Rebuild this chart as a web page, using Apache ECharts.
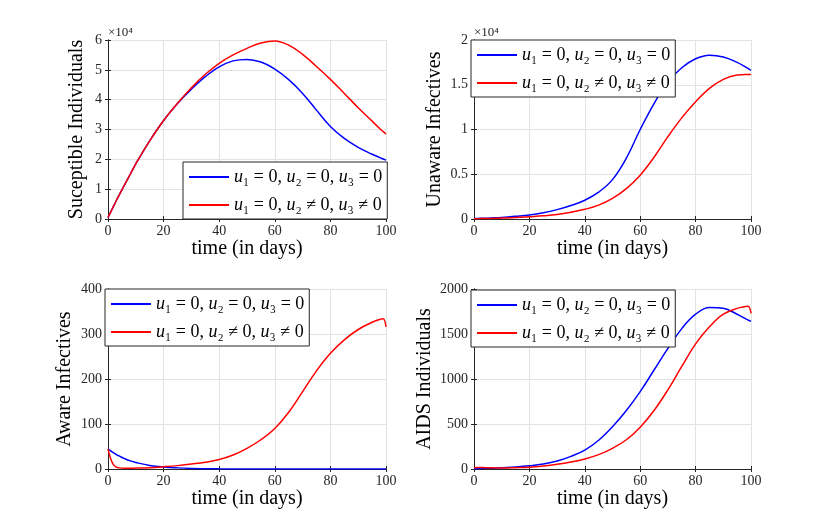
<!DOCTYPE html>
<html>
<head>
<meta charset="utf-8">
<script src="https://cdn.jsdelivr.net/npm/echarts@6/dist/echarts.min.js"></script>
<style>
html, body { margin: 0; padding: 0; background: #fff; }
#main { width: 830px; height: 528px; }
</style>
</head>
<body>
<div id="main"></div>
<script>
/*时间点 (天)*/
var days = [0, 1, 2, 3, 4, 6, 8, 10, 15, 20, 25, 30, 35, 40, 45, 50, 55, 60, 65, 70, 75, 80, 85, 90, 95, 98, 99, 100];

/*易感人群*/
var susNoCtrl = [500, 2400, 4300, 6200, 8000, 11500, 15000, 18500, 26200, 33000, 38700, 43500, 47700, 51000, 53000, 53500, 52600, 50200, 46700, 42100, 36500, 31000, 27000, 24000, 21700, 20500, 20100, 19800];
var susCtrl = [500, 2400, 4300, 6200, 8000, 11500, 15000, 18500, 26200, 33000, 38800, 44000, 48500, 52200, 55000, 57200, 59000, 59700, 58300, 55200, 51100, 46800, 42100, 37300, 32800, 30100, 29300, 28500];

/*未察觉感染者*/
var unawNoCtrl = [50, 60, 70, 80, 90, 110, 140, 170, 300, 450, 700, 1050, 1500, 2100, 3000, 4400, 6800, 10000, 12900, 15300, 16900, 17900, 18300, 18100, 17500, 17000, 16800, 16600];
var unawCtrl = [30, 35, 40, 45, 50, 60, 75, 100, 160, 250, 350, 500, 750, 1080, 1550, 2300, 3400, 4900, 6900, 9200, 11300, 13100, 14600, 15600, 16100, 16150, 16150, 16150];

/*已察觉感染者*/
var awNoCtrl = [44, 40, 36, 32, 29, 23, 18, 14.5, 8, 4.5, 2.5, 1.3, 0.7, 0.3, 0.1, 0, 0, 0, 0, 0, 0, 0, 0, 0, 0, 0, 0, 0];
var awCtrl = [44, 22, 9, 4, 2.5, 1.5, 1.5, 2, 3, 5, 7.5, 11, 15, 21, 31, 46, 65, 90, 126, 172, 218, 257, 287, 310, 326, 333, 334, 316];

/*艾滋病人群*/
var aidsNoCtrl = [0, 3, 5, 6, 7, 9, 11, 14, 22, 35, 55, 88, 140, 210, 320, 470, 650, 860, 1100, 1340, 1560, 1720, 1795, 1785, 1720, 1670, 1655, 1640];
var aidsCtrl = [15, 18, 17, 16, 15, 13, 12, 12, 15, 20, 33, 52, 78, 112, 160, 230, 325, 465, 650, 880, 1140, 1390, 1580, 1720, 1785, 1805, 1808, 1730];

/*图例与坐标轴文字*/
var seriesNames = ['noctrl', 'ctrl'];
var legendLabels = ['{i|u}₁ = 0, {i|u}₂ = 0, {i|u}₃ = 0', '{i|u}₁ = 0, {i|u}₂ ≠ 0, {i|u}₃ ≠ 0'];
var yTitles = ['Suceptible Individuals', 'Unaware Infectives', 'Aware Infectives', 'AIDS Individuals'];
var xTitle = 'time (in days)';
var yMax = [60000, 20000, 400, 2000];
var yStep = [10000, 5000, 100, 500];

var FONT = 'Liberation Serif';
var AXIS_COLOR = '#262626';

var grids = [
	{ left: 108, top: 40, width: 278, height: 179 },
	{ left: 474, top: 40, width: 277, height: 179 },
	{ left: 108, top: 289, width: 278, height: 180 },
	{ left: 474, top: 289, width: 277, height: 180 }
];
var legendPos = [
	{ left: 183, top: 162 },
	{ left: 471, top: 40 },
	{ left: 105, top: 289 },
	{ left: 471, top: 290 }
];
var yNameGap = [21, 29, 33, 39];

function pairs(xs, ys) {
	var out = [];
	for(var i = 0; i < xs.length; i++) {
		out.push([xs[i], ys[i]]);
	}
	return out;
}

function yLabel(idx) {
	return function(v) {
		if(idx < 2) {
			return String(v / 10000);
		}
		return String(v);
	};
}

var option = {
	backgroundColor: '#fff',
	animation: false,
	grid: grids,
	xAxis: [],
	yAxis: [],
	legend: [],
	series: [],
	graphic: [{
		type: 'text',
		left: 108,
		top: 26,
		style: { text: '×10⁴', font: '13px "' + FONT + '"', fill: AXIS_COLOR }
	}, {
		type: 'text',
		left: 474,
		top: 26,
		style: { text: '×10⁴', font: '13px "' + FONT + '"', fill: AXIS_COLOR }
	}]
};

var allData = [
	[susNoCtrl, susCtrl],
	[unawNoCtrl, unawCtrl],
	[awNoCtrl, awCtrl],
	[aidsNoCtrl, aidsCtrl]
];

for(var g = 0; g < 4; g++) {
	/*下方x轴*/
	option.xAxis.push({
		gridIndex: g, type: 'value', min: 0, max: 100, interval: 20, position: 'bottom',
		name: xTitle, nameLocation: 'middle', nameGap: 19,
		nameTextStyle: { fontFamily: FONT, fontSize: 20, color: '#000' },
		axisLine: { show: true, lineStyle: { color: AXIS_COLOR, width: 1 } },
		axisTick: { show: true, inside: true, length: 3, lineStyle: { color: AXIS_COLOR } },
		axisLabel: { fontFamily: FONT, fontSize: 14, color: AXIS_COLOR, margin: 5 },
		splitLine: { show: true, lineStyle: { color: '#e3e3e3', width: 1 } }
	});
	/*上方x轴, 只画框*/
	option.xAxis.push({
		gridIndex: g, type: 'value', min: 0, max: 100, interval: 20, position: 'top',
		axisLine: { show: true, lineStyle: { color: AXIS_COLOR, width: 1 } },
		axisTick: { show: true, inside: true, length: 3, lineStyle: { color: AXIS_COLOR } },
		axisLabel: { show: false },
		splitLine: { show: false }
	});
	option.yAxis.push({
		gridIndex: g, type: 'value', min: 0, max: yMax[g], interval: yStep[g], position: 'left',
		name: yTitles[g], nameLocation: 'middle', nameGap: yNameGap[g],
		nameTextStyle: { fontFamily: FONT, fontSize: 20, color: '#000' },
		axisLine: { show: true, lineStyle: { color: AXIS_COLOR, width: 1 } },
		axisTick: { show: true, inside: true, length: 3, lineStyle: { color: AXIS_COLOR } },
		axisLabel: { fontFamily: FONT, fontSize: 14, color: AXIS_COLOR, margin: 6, formatter: yLabel(g) },
		splitLine: { show: true, lineStyle: { color: '#e3e3e3', width: 1 } }
	});
	option.yAxis.push({
		gridIndex: g, type: 'value', min: 0, max: yMax[g], interval: yStep[g], position: 'right',
		axisLine: { show: true, lineStyle: { color: AXIS_COLOR, width: 1 } },
		axisTick: { show: true, inside: true, length: 3, lineStyle: { color: AXIS_COLOR } },
		axisLabel: { show: false },
		splitLine: { show: false }
	});
	option.legend.push({
		orient: 'vertical',
		left: legendPos[g].left,
		top: legendPos[g].top,
		data: seriesNames,
		backgroundColor: '#fff',
		borderColor: AXIS_COLOR,
		borderWidth: 1,
		borderRadius: 0,
		padding: [4, 5, 3, 5],
		itemGap: 6,
		itemWidth: 40,
		itemHeight: 2,
		selectedMode: false,
		formatter: function(name) {
			return legendLabels[seriesNames.indexOf(name)];
		},
		textStyle: {
			fontFamily: FONT, fontSize: 18, color: '#000', lineHeight: 22,
			rich: { i: { fontFamily: FONT, fontSize: 18, fontStyle: 'italic', color: '#000', lineHeight: 22 } }
		}
	});
	var colors = ['#0000ff', '#ff0000'];
	for(var s = 0; s < 2; s++) {
		option.series.push({
			name: seriesNames[s],
			type: 'line',
			xAxisIndex: g * 2,
			yAxisIndex: g * 2,
			data: pairs(days, allData[g][s]),
			symbol: 'none',
			smooth: 0.4,
			clip: true,
			itemStyle: { color: colors[s] },
			lineStyle: { color: colors[s], width: 1.5 }
		});
	}
}

var chart = echarts.init(document.getElementById('main'));
chart.setOption(option);
</script>
</body>
</html>
